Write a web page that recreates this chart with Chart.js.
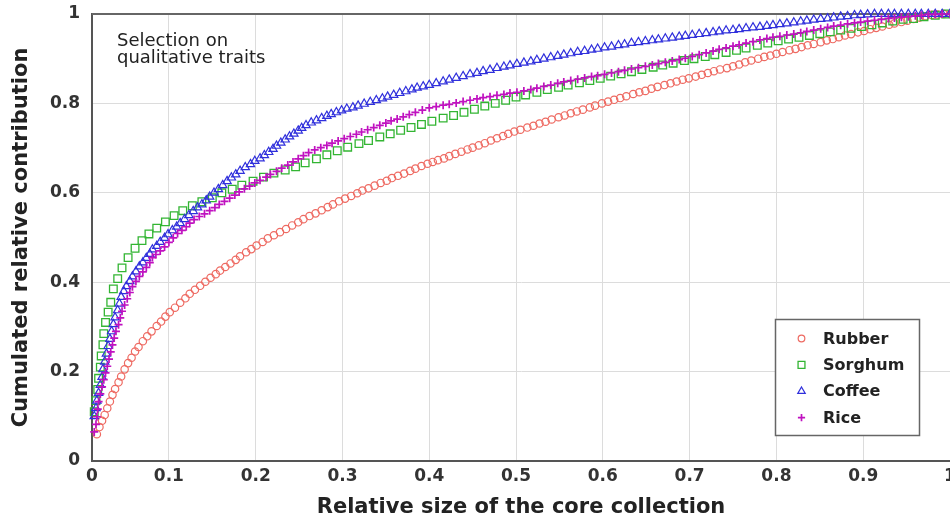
<!DOCTYPE html>
<html>
<head>
<meta charset="utf-8">
<script src="https://cdn.jsdelivr.net/npm/chart.js@4.4.0/dist/chart.umd.min.js"></script>
<style>
  html, body { margin: 0; padding: 0; background: #fff; }
</style>
</head>
<body>
<canvas id="myChart" width="950" height="520"></canvas>
<script>
// axis ticks
const xTickValues = [0.0114, 0.1, 0.2, 0.3, 0.4, 0.5, 0.6, 0.7, 0.8, 0.9, 1];
const xTickLabels = ['0', '0.1', '0.2', '0.3', '0.4', '0.5', '0.6', '0.7', '0.8', '0.9', '1'];
const yTickValues = [0, 0.2, 0.4, 0.6, 0.8, 1];
const yTickLabels = ['0', '0.2', '0.4', '0.6', '0.8', '1'];

const seriesNames = ['Rubber', 'Sorghum', 'Coffee', 'Rice'];

// Rubber (circles)
const rubberX = [0.017,0.020,0.023,0.026,0.029,0.032,0.035,0.038,0.042,0.045,0.049,0.053,0.057,0.061,0.065,0.070,
  0.075,0.080,0.086,0.091,0.096,0.101,0.107,0.113,0.119,0.124,0.130,0.136,0.142,0.148,0.154,0.159,
  0.165,0.171,0.177,0.182,0.189,0.195,0.201,0.208,0.214,0.221,0.228,0.235,0.242,0.249,0.255,0.262,
  0.269,0.276,0.283,0.289,0.296,0.303,0.310,0.317,0.323,0.330,0.337,0.344,0.351,0.357,0.364,0.371,
  0.378,0.384,0.391,0.398,0.404,0.410,0.417,0.423,0.430,0.437,0.444,0.450,0.457,0.464,0.471,
  0.478,0.485,0.491,0.498,0.505,0.513,0.520,0.527,0.534,0.541,0.549,0.556,0.563,0.570,0.577,0.585,
  0.591,0.599,0.606,0.613,0.620,0.627,0.635,0.642,0.649,0.656,0.663,0.671,0.678,0.685,0.692,0.699,
  0.707,0.714,0.721,0.728,0.735,0.743,0.750,0.757,0.764,0.771,0.779,0.786,0.793,0.800,0.807,0.815,
  0.822,0.829,0.836,0.843,0.851,0.858,0.865,0.872,0.879,0.886,0.894,0.901,0.908,0.915,0.922,0.930,
  0.936,0.944,0.951,0.958,0.965,0.972,0.979,0.986,0.993,1.000];
const rubberY = [0.060,0.076,0.090,0.103,0.118,0.133,0.148,0.161,0.176,0.189,0.205,0.219,0.231,0.245,0.255,0.268,
  0.279,0.290,0.302,0.312,0.323,0.333,0.343,0.354,0.364,0.374,0.383,0.392,0.401,0.410,0.418,0.426,
  0.434,0.442,0.450,0.458,0.467,0.474,0.482,0.490,0.498,0.505,0.512,0.519,0.527,0.534,0.541,0.548,
  0.554,0.561,0.568,0.574,0.581,0.587,0.593,0.599,0.605,0.610,0.616,0.622,0.627,0.633,0.638,0.643,
  0.649,0.654,0.660,0.665,0.669,0.673,0.677,0.682,0.687,0.692,0.697,0.701,0.706,0.711,0.717,
  0.722,0.727,0.732,0.737,0.741,0.746,0.750,0.755,0.759,0.764,0.769,0.773,0.778,0.782,0.786,0.791,
  0.795,0.800,0.804,0.808,0.812,0.816,0.821,0.825,0.828,0.833,0.837,0.841,0.845,0.849,0.853,0.856,
  0.860,0.864,0.868,0.872,0.876,0.879,0.883,0.887,0.892,0.896,0.900,0.904,0.907,0.911,0.915,0.919,
  0.922,0.926,0.930,0.933,0.937,0.941,0.944,0.948,0.952,0.955,0.959,0.962,0.966,0.969,0.972,0.976,
  0.979,0.982,0.985,0.989,0.992,0.995,0.998,0.999,1.000,1.000];

// Sorghum (squares)
const sorghumX = [0.014,0.016,0.018,0.019,0.021,0.022,0.024,0.025,0.027,0.030,0.033,0.036,
  0.041,0.046,0.053,0.061,0.069,0.077,0.086,0.096,0.106,0.116,0.127,0.138,0.150,0.161,0.173,0.184,
  0.197,0.209,0.221,0.234,0.246,0.257,0.270,0.282,0.294,0.306,0.319,0.330,0.343,0.355,0.367,0.379,
  0.391,0.403,0.416,0.428,0.440,0.452,0.464,0.476,0.488,0.500,0.511,0.524,0.536,0.549,0.560,0.573,
  0.585,0.597,0.609,0.621,0.633,0.645,0.658,0.669,0.681,0.694,0.705,0.718,0.729,0.742,0.754,0.765,
  0.778,0.790,0.802,0.814,0.826,0.838,0.850,0.862,0.874,0.886,0.898,0.910,0.922,0.934,0.946,0.958,
  0.970,0.983,0.995];
const sorghumY = [0.110,0.135,0.160,0.185,0.210,0.235,0.260,0.285,0.310,0.333,0.355,0.385,
  0.408,0.432,0.455,0.476,0.493,0.508,0.521,0.535,0.549,0.560,0.571,0.580,0.589,0.600,0.608,0.617,
  0.626,0.635,0.644,0.651,0.658,0.667,0.676,0.685,0.694,0.702,0.710,0.717,0.725,0.732,0.740,0.746,
  0.753,0.760,0.767,0.773,0.780,0.787,0.794,0.800,0.807,0.814,0.819,0.825,0.831,0.836,0.841,0.846,
  0.851,0.856,0.861,0.866,0.871,0.876,0.881,0.886,0.890,0.896,0.900,0.905,0.909,0.914,0.919,0.924,
  0.930,0.935,0.940,0.944,0.948,0.952,0.956,0.960,0.964,0.968,0.972,0.976,0.980,0.984,0.988,0.990,
  0.994,0.997,1.000];

// Coffee (triangles)
const coffeeX = [0.014,0.016,0.017,0.019,0.021,0.023,0.024,0.026,0.028,0.030,
  0.032,0.034,0.036,0.038,0.041,0.043,0.045,0.048,0.051,0.055,
  0.058,0.062,0.066,0.070,0.074,0.078,0.081,0.086,0.090,0.095,
  0.099,0.104,0.109,0.113,0.118,0.123,0.128,0.133,0.138,0.143,
  0.147,0.152,0.157,0.162,0.167,0.172,0.177,0.182,0.188,0.194,
  0.199,0.205,0.210,0.215,0.220,0.224,0.229,0.234,0.239,0.244,
  0.249,0.253,0.258,0.264,0.270,0.276,0.282,0.287,0.293,0.299,
  0.305,0.312,0.318,0.325,0.332,0.339,0.346,0.352,0.359,0.366,
  0.373,0.380,0.386,0.393,0.400,0.408,0.416,0.423,0.431,0.439,
  0.447,0.455,0.462,0.470,0.478,0.486,0.493,0.501,0.509,0.517,
  0.524,0.532,0.540,0.548,0.555,0.563,0.571,0.579,0.587,0.594,
  0.602,0.610,0.618,0.625,0.633,0.641,0.649,0.657,0.664,0.672,
  0.680,0.688,0.695,0.703,0.711,0.719,0.727,0.734,0.742,0.750,
  0.757,0.765,0.773,0.781,0.789,0.796,0.804,0.812,0.820,0.828,
  0.835,0.843,0.851,0.859,0.866,0.874,0.882,0.890,0.897,0.905,
  0.913,0.921,0.929,0.936,0.944,0.952,0.960,0.967,0.975,0.983,
  0.991,1.000];
const coffeeY = [0.100,0.118,0.135,0.152,0.170,0.188,0.205,0.222,0.240,0.257,
  0.273,0.290,0.306,0.321,0.337,0.352,0.367,0.380,0.391,0.402,
  0.413,0.424,0.435,0.444,0.454,0.463,0.473,0.481,0.490,0.499,
  0.507,0.516,0.524,0.532,0.541,0.550,0.559,0.567,0.574,0.583,
  0.591,0.600,0.608,0.617,0.626,0.634,0.641,0.649,0.657,0.664,
  0.671,0.677,0.684,0.691,0.698,0.705,0.712,0.719,0.726,0.732,
  0.739,0.745,0.751,0.757,0.762,0.767,0.772,0.776,0.780,0.784,
  0.788,0.791,0.795,0.799,0.803,0.807,0.811,0.815,0.819,0.823,
  0.827,0.831,0.835,0.838,0.841,0.845,0.849,0.853,0.857,0.861,
  0.865,0.868,0.872,0.875,0.879,0.882,0.885,0.888,0.891,0.894,
  0.897,0.900,0.903,0.906,0.909,0.912,0.915,0.917,0.920,0.922,
  0.925,0.927,0.930,0.932,0.935,0.937,0.939,0.941,0.943,0.945,
  0.947,0.949,0.951,0.953,0.955,0.957,0.959,0.961,0.963,0.964,
  0.966,0.968,0.970,0.971,0.973,0.975,0.977,0.979,0.981,0.983,
  0.985,0.987,0.989,0.990,0.992,0.994,0.995,0.997,0.998,0.999,
  1.000,1.000,1.000,1.000,1.000,1.000,1.000,1.000,1.000,1.000,
  1.000,1.000];

// Rice (plus signs)
const riceX = [0.014,0.016,0.017,0.018,0.019,0.021,0.023,0.025,0.027,0.029,
  0.031,0.033,0.035,0.037,0.039,0.042,0.044,0.046,0.049,0.052,
  0.055,0.058,0.062,0.066,0.070,0.074,0.078,0.081,0.085,0.090,
  0.095,0.100,0.105,0.110,0.115,0.120,0.124,0.129,0.135,0.141,
  0.147,0.153,0.158,0.164,0.170,0.176,0.181,0.187,0.193,0.199,
  0.205,0.212,0.217,0.224,0.230,0.237,0.243,0.249,0.255,0.261,
  0.268,0.275,0.282,0.288,0.295,0.302,0.309,0.316,0.322,0.329,
  0.336,0.343,0.350,0.356,0.363,0.370,0.377,0.384,0.392,0.400,
  0.408,0.416,0.423,0.431,0.439,0.447,0.455,0.462,0.470,0.478,
  0.486,0.493,0.501,0.509,0.517,0.524,0.532,0.540,0.548,0.555,
  0.563,0.571,0.579,0.587,0.594,0.602,0.610,0.618,0.625,0.633,
  0.641,0.649,0.657,0.664,0.672,0.680,0.688,0.695,0.703,0.711,
  0.719,0.727,0.734,0.742,0.750,0.757,0.765,0.773,0.781,0.789,
  0.796,0.804,0.812,0.820,0.828,0.835,0.843,0.851,0.859,0.866,
  0.874,0.882,0.890,0.897,0.905,0.913,0.921,0.929,0.936,0.944,
  0.952,0.960,0.967,0.975,0.983,0.991,1.000];
const riceY = [0.065,0.082,0.099,0.116,0.133,0.150,0.166,0.182,0.197,0.212,
  0.228,0.244,0.260,0.275,0.290,0.305,0.320,0.335,0.349,0.363,
  0.377,0.390,0.402,0.413,0.423,0.433,0.444,0.455,0.462,0.470,
  0.479,0.489,0.499,0.509,0.516,0.524,0.532,0.540,0.547,0.553,
  0.560,0.567,0.574,0.581,0.588,0.595,0.602,0.609,0.615,0.622,
  0.628,0.635,0.641,0.648,0.655,0.662,0.669,0.676,0.683,0.690,
  0.696,0.701,0.706,0.711,0.716,0.721,0.726,0.731,0.736,0.741,
  0.746,0.751,0.756,0.761,0.765,0.770,0.775,0.780,0.785,0.790,
  0.793,0.796,0.798,0.801,0.804,0.807,0.810,0.813,0.815,0.818,
  0.820,0.823,0.825,0.828,0.831,0.834,0.838,0.841,0.845,0.848,
  0.851,0.854,0.857,0.860,0.862,0.865,0.868,0.871,0.874,0.877,
  0.880,0.883,0.886,0.889,0.892,0.895,0.898,0.901,0.905,0.909,
  0.913,0.917,0.921,0.924,0.928,0.931,0.935,0.938,0.942,0.945,
  0.948,0.950,0.953,0.955,0.958,0.961,0.964,0.967,0.970,0.973,
  0.975,0.978,0.980,0.982,0.984,0.986,0.988,0.990,0.991,0.993,
  0.994,0.996,0.997,0.999,0.999,1.000,1.000];

const FONT = 'DejaVu Sans';

function toPoints(xs, ys) {
    return xs.map((x, i) => ({ x: x, y: ys[i] }));
}

// frame line on top, note text and legend box
const extrasPlugin = {
    id: 'extras',
    beforeDatasetsDraw(chart) {
        const ctx = chart.ctx;
        const a = chart.chartArea;
        ctx.save();
        ctx.strokeStyle = '#666';
        ctx.lineWidth = 2;
        ctx.beginPath();
        ctx.moveTo(a.left, a.top);
        ctx.lineTo(a.right, a.top);
        ctx.stroke();
        ctx.restore();
    },
    afterDraw(chart) {
        const ctx = chart.ctx;
        ctx.save();
        // note
        ctx.fillStyle = '#222';
        ctx.font = '18px "' + FONT + '"';
        ctx.textAlign = 'left';
        ctx.textBaseline = 'alphabetic';
        ctx.fillText('Selection on', 117, 46);
        ctx.fillText('qualitative traits', 117, 63);

        // legend
        const bx = 775.5, by = 319.5, bw = 144, bh = 116;
        ctx.fillStyle = '#fff';
        ctx.fillRect(bx, by, bw, bh);
        ctx.strokeStyle = '#666';
        ctx.lineWidth = 1.5;
        ctx.strokeRect(bx, by, bw, bh);

        ctx.font = 'bold 16px "' + FONT + '"';
        ctx.textBaseline = 'middle';
        chart.data.datasets.forEach((ds, i) => {
            const y = 338.5 + i * 26.4;
            ctx.save();
            ctx.strokeStyle = ds.pointBorderColor;
            ctx.fillStyle = 'rgba(0,0,0,0)';
            ctx.lineWidth = ds.pointBorderWidth;
            Chart.helpers.drawPoint(ctx, {
                pointStyle: ds.pointStyle,
                radius: ds.pointRadius * 0.9,
                rotation: 0,
                borderWidth: ds.pointBorderWidth
            }, 801.5, y);
            ctx.restore();
            ctx.fillStyle = '#222';
            ctx.fillText(ds.label, 823, y + 1);
        });
        ctx.restore();
    }
};

const ctx = document.getElementById('myChart').getContext('2d');
const myChart = new Chart(ctx, {
    type: 'scatter',
    data: {
        datasets: [
            {
                label: seriesNames[0],
                data: toPoints(rubberX, rubberY),
                pointStyle: 'circle',
                pointRadius: 3.7,
                pointBorderWidth: 1.2,
                pointBorderColor: '#ee6a62',
                pointBackgroundColor: 'rgba(0,0,0,0)',
                clip: false,
                order: 4
            },
            {
                label: seriesNames[1],
                data: toPoints(sorghumX, sorghumY),
                pointStyle: 'rect',
                pointRadius: 5.4,
                pointBorderWidth: 1.3,
                pointBorderColor: '#33b533',
                pointBackgroundColor: 'rgba(0,0,0,0)',
                clip: false,
                order: 3
            },
            {
                label: seriesNames[2],
                data: toPoints(coffeeX, coffeeY),
                pointStyle: 'triangle',
                pointRadius: 4.8,
                pointBorderWidth: 1.2,
                pointBorderColor: '#3030dc',
                pointBackgroundColor: 'rgba(0,0,0,0)',
                clip: false,
                order: 2
            },
            {
                label: seriesNames[3],
                data: toPoints(riceX, riceY),
                pointStyle: 'cross',
                pointRadius: 4,
                pointBorderWidth: 1.7,
                pointBorderColor: '#c012c0',
                pointBackgroundColor: 'rgba(0,0,0,0)',
                clip: false,
                order: 1
            }
        ]
    },
    options: {
        responsive: false,
        animation: false,
        layout: {
            autoPadding: false,
            padding: { left: 0, top: 14, right: 0, bottom: 0 }
        },
        plugins: {
            legend: { display: false },
            tooltip: { enabled: false }
        },
        scales: {
            x: {
                type: 'linear',
                min: xTickValues[0],
                max: 1,
                afterBuildTicks: (scale) => {
                    scale.ticks = xTickValues.map(v => ({ value: v }));
                },
                afterFit: (scale) => {
                    scale.height = 59;
                    scale.paddingLeft = 0;
                    scale.paddingRight = 0;
                },
                ticks: {
                    autoSkip: false,
                    maxRotation: 0,
                    padding: 5,
                    color: '#333',
                    font: { family: FONT, size: 17, weight: 'bold' },
                    callback: (value, index) => xTickLabels[index]
                },
                grid: { color: '#dcdcdc', lineWidth: 1, drawTicks: false },
                border: { color: '#555', width: 2 },
                title: {
                    display: true,
                    text: 'Relative size of the core collection',
                    color: '#222',
                    font: { family: FONT, size: 21, weight: 'bold' },
                    padding: { top: 0, bottom: 0 }
                }
            },
            y: {
                type: 'linear',
                min: 0,
                max: 1,
                afterBuildTicks: (scale) => {
                    scale.ticks = yTickValues.map(v => ({ value: v }));
                },
                afterFit: (scale) => {
                    scale.width = 92;
                    scale.paddingTop = 0;
                    scale.paddingBottom = 0;
                },
                ticks: {
                    padding: 12,
                    color: '#333',
                    font: { family: FONT, size: 17, weight: 'bold' },
                    callback: (value, index) => yTickLabels[index]
                },
                grid: { color: '#dcdcdc', lineWidth: 1, drawTicks: false },
                border: { color: '#555', width: 2 },
                title: {
                    display: true,
                    text: 'Cumulated relative contribution',
                    color: '#222',
                    font: { family: FONT, size: 21, weight: 'bold' },
                    padding: { top: 9, bottom: 0 }
                }
            }
        }
    },
    plugins: [extrasPlugin]
});
</script>
</body>
</html>
